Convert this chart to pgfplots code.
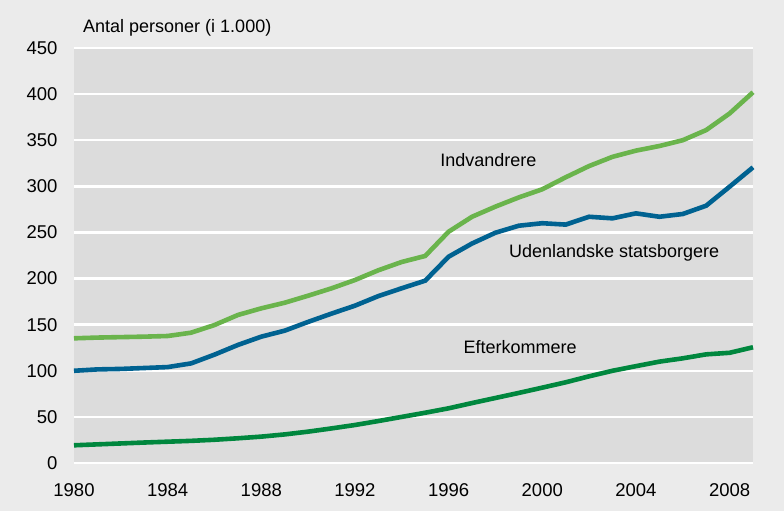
\documentclass[border=0pt]{standalone}
\usepackage{pgfplots}
\pgfplotsset{compat=1.18}
\usepackage{fontspec}
\setmainfont{Liberation Sans}
\definecolor{outerbg}{RGB}{235,235,235}
\definecolor{plotbg}{RGB}{220,220,220}
\definecolor{lgreen}{RGB}{106,180,76}
\definecolor{dblue}{RGB}{0,98,145}
\definecolor{dgreen}{RGB}{0,135,62}
\begin{document}
\begin{tikzpicture}
\fill[outerbg] (0,0) rectangle (784pt,511pt);
\begin{axis}[
  at={(74pt,48pt)}, anchor=south west,
  scale only axis, width=679pt, height=415pt,
  xmin=1980, xmax=2009, ymin=0, ymax=450,
  axis background/.style={fill=plotbg},
  axis line style={draw=none},
  major tick length=0pt,
  xtick={1980,1984,...,2008},
  ytick={0,50,...,450},
  ymajorgrids, grid style={white, line width=2.5pt},
  xticklabel style={yshift=-17pt},
  yticklabel style={xshift=-13pt},
  /pgf/number format/1000 sep={},
  /pgf/number format/assume math mode=true,
  tick label style={font=\fontsize{18.5}{20}\selectfont},
  clip=false,
]
\addplot[lgreen, line width=4.6pt] coordinates {
(1980,135.2)(1981,136)(1982,136.5)(1983,137)(1984,137.7)(1985,141.3)(1986,149.6)(1987,160.5)(1988,167.7)(1989,173.8)(1990,181.4)(1991,189.4)(1992,198.4)(1993,209)(1994,218)(1995,224.5)(1996,250.8)(1997,267)(1998,278)(1999,288)(2000,296.8)(2001,309.8)(2002,322)(2003,332)(2004,338.7)(2005,343.7)(2006,350)(2007,361)(2008,379)(2009,402)};
\addplot[dblue, line width=4.6pt] coordinates {
(1980,100)(1981,101.5)(1982,102)(1983,103)(1984,104)(1985,108)(1986,117.5)(1987,128)(1988,137)(1989,143.5)(1990,153)(1991,162)(1992,170.6)(1993,181)(1994,189.5)(1995,197.7)(1996,223.7)(1997,238)(1998,249.7)(1999,257.3)(2000,260)(2001,258.5)(2002,267)(2003,265.3)(2004,270.7)(2005,267)(2006,270)(2007,279)(2008,299.6)(2009,320.6)};
\addplot[dgreen, line width=4.6pt] coordinates {
(1980,19.2)(1981,20.2)(1982,21.2)(1983,22.2)(1984,23.1)(1985,24)(1986,25.2)(1987,26.8)(1988,28.6)(1989,31)(1990,34)(1991,37.5)(1992,41.2)(1993,45.5)(1994,50)(1995,54.5)(1996,59.3)(1997,65)(1998,70.5)(1999,76)(2000,81.7)(2001,87.5)(2002,94)(2003,100)(2004,105)(2005,109.9)(2006,113.5)(2007,117.8)(2008,119.5)(2009,125.5)};
\node[font=\fontsize{18}{20}\selectfont] at (axis cs:1997.7,328.6) {Indvandrere};
\node[font=\fontsize{18}{20}\selectfont] at (axis cs:2003.07,227.7) {Udenlandske statsborgere};
\node[font=\fontsize{18}{20}\selectfont] at (axis cs:1999.05,125.8) {Efterkommere};
\end{axis}
\node[anchor=west, font=\fontsize{18}{20}\selectfont, inner sep=0pt] at (83pt,483pt) {Antal personer (i 1.000)};
\end{tikzpicture}
\end{document}
